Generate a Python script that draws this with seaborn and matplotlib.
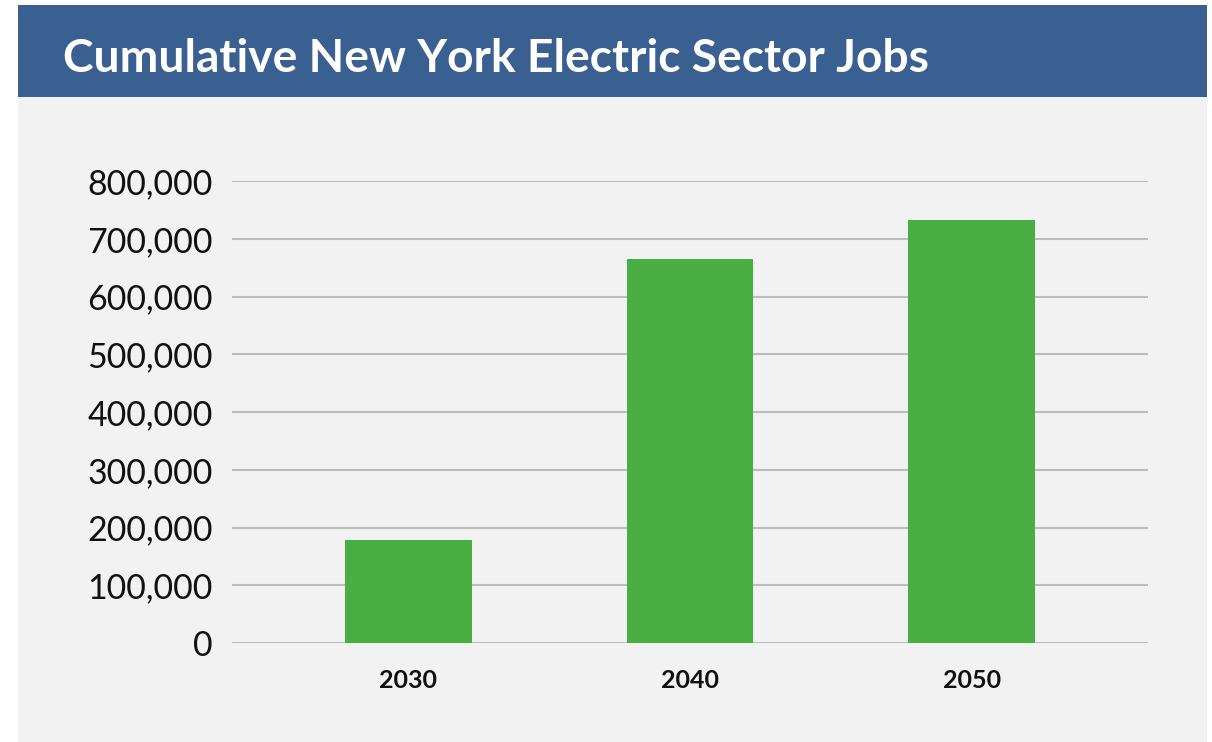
import matplotlib
matplotlib.use("Agg")
import matplotlib.pyplot as plt
import matplotlib.patches as mpatches
from matplotlib.ticker import FuncFormatter
import seaborn as sns
import pandas as pd

years = ["2030", "2040", "2050"]
jobs = [178000, 665000, 732000]
yticks = [0, 100000, 200000, 300000, 400000, 500000, 600000, 700000, 800000]
title = "Cumulative New York Electric Sector Jobs"

sns.set_theme(style="white")
plt.rcParams["font.family"] = ["Lato", "DejaVu Sans"]

fig = plt.figure(figsize=(12.12, 7.42), dpi=100)
fig.patch.set_facecolor("white")

# gray panel and blue banner
fig.add_artist(mpatches.Rectangle((0.01485, 0.0), 0.981, 0.8693, transform=fig.transFigure,
                                  facecolor="#f2f2f2", edgecolor="none", zorder=0))
fig.add_artist(mpatches.Rectangle((0.01485, 0.8693), 0.981, 0.124, transform=fig.transFigure,
                                  facecolor="#3a5f91", edgecolor="none", zorder=0))
fig.text(0.052, 0.92, title, color="white", fontsize=33.2, fontweight="bold",
         va="center", ha="left", family=["Lato", "DejaVu Sans"])

ax = fig.add_axes([0.1914, 0.1334, 0.7558, 0.6226])
ax.set_facecolor("none")
df = pd.DataFrame({"year": years, "jobs": jobs})
sns.barplot(data=df, x="year", y="jobs", color="#4aaf43", saturation=1, width=0.45,
            linewidth=0, ax=ax, zorder=3)

ax.set_xlim(-0.625, 2.625)
ax.set_ylim(0, 800000)
ax.set_yticks(yticks)
ax.yaxis.set_major_formatter(FuncFormatter(lambda v, p: f"{int(v):,}"))
ax.yaxis.grid(True, color="#bdbdbd", linewidth=1.5, zorder=0)
ax.set_axisbelow(True)
for s in ax.spines.values():
    s.set_visible(False)
ax.set_xlabel("")
ax.set_ylabel("")
ax.tick_params(axis="y", length=0, pad=14, labelsize=24.4, labelcolor="#111111")
ax.tick_params(axis="x", length=0, pad=19, labelsize=18, labelcolor="#111111")
for lbl in ax.get_xticklabels():
    lbl.set_fontweight("bold")

fig.savefig("out.png", dpi=100)
